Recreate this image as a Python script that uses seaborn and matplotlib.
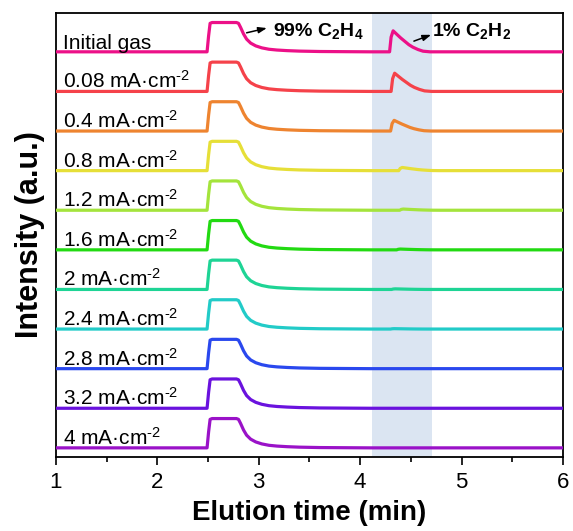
import matplotlib
matplotlib.use("Agg")
import numpy as np
import pandas as pd
import matplotlib.pyplot as plt
import seaborn as sns

# Series, top to bottom
labels = ["Initial gas", "0.08 mA·cm$^{\\text{-2}}$", "0.4 mA·cm$^{\\text{-2}}$",
          "0.8 mA·cm$^{\\text{-2}}$", "1.2 mA·cm$^{\\text{-2}}$", "1.6 mA·cm$^{\\text{-2}}$",
          "2 mA·cm$^{\\text{-2}}$", "2.4 mA·cm$^{\\text{-2}}$", "2.8 mA·cm$^{\\text{-2}}$",
          "3.2 mA·cm$^{\\text{-2}}$", "4 mA·cm$^{\\text{-2}}$"]
colors = ["#ec1088", "#f5424a", "#ee8430", "#e6df38", "#a4e43c", "#22da12",
          "#1ed495", "#22cbc8", "#2a48ee", "#6a12de", "#9a12c8"]

# Ethylene peak profile (retention time in min, intensity in a.u.)
c2h4_time = [1.00, 2.49, 2.505, 2.52, 2.54, 2.78, 2.80, 2.82, 2.85, 2.88, 2.92, 2.97,
             3.03, 3.10, 3.18, 3.28, 3.40, 3.60, 3.90, 4.10]
c2h4_int = [0.00, 0.00, 0.40, 0.72, 0.74, 0.74, 0.72, 0.62, 0.45, 0.32, 0.22, 0.15,
            0.10, 0.065, 0.045, 0.03, 0.018, 0.008, 0.003, 0.0]

# Acetylene peak profile relative to its onset (min) and normalised intensity
c2h2_dt = [0.00, 0.015, 0.035, 0.07, 0.11, 0.15, 0.19, 0.23, 0.28, 0.33, 0.40]
c2h2_shape = [0.00, 0.70, 1.00, 0.84, 0.66, 0.50, 0.34, 0.22, 0.11, 0.03, 0.0]
c2h2_onset = [4.29, 4.305, 4.30, 4.38, 4.39, 4.36, 4.31, 4.30, 4.30, 4.30, 4.30]
c2h2_height = [0.53, 0.46, 0.27, 0.08, 0.03, 0.02, 0.015, 0.01, 0.0, 0.0, 0.0]
tail_time = [4.80, 6.00]

rows = []
n = len(labels)
for i, lab in enumerate(labels):
    offset = n - 1 - i
    t = list(c2h4_time) + [c2h2_onset[i] + d for d in c2h2_dt] + tail_time
    y = list(c2h4_int) + [c2h2_height[i] * s for s in c2h2_shape] + [0.0, 0.0]
    for tt, yy in zip(t, y):
        rows.append({"time": tt, "intensity": yy + offset, "series": lab})
df = pd.DataFrame(rows)

sns.set_style("ticks")
plt.rcParams["font.family"] = ["Liberation Sans", "DejaVu Sans"]
plt.rcParams["mathtext.fontset"] = "custom"
plt.rcParams["mathtext.rm"] = "Liberation Sans"
plt.rcParams["mathtext.bf"] = "Liberation Sans:bold"
plt.rcParams["mathtext.default"] = "regular"
plt.rcParams["text.color"] = "black"
plt.rcParams["axes.labelcolor"] = "black"
plt.rcParams["xtick.color"] = "black"
plt.rcParams["xtick.labelcolor"] = "black"

fig = plt.figure(figsize=(5.73, 5.31), dpi=100)
ax = fig.add_axes([0.0977, 0.1394, 0.8848, 0.8361])

ax.axvspan(4.12, 4.71, color="#dbe5f2", lw=0, zorder=0)

sns.lineplot(data=df, x="time", y="intensity", hue="series", hue_order=labels,
             palette=colors, estimator=None, sort=False, lw=2.3, legend=False,
             ax=ax, zorder=3)
for line in ax.get_lines():
    line.set_solid_joinstyle("round")
    line.set_solid_capstyle("butt")

for i, lab in enumerate(labels):
    offset = n - 1 - i
    ax.text(1.07, offset + 0.08, lab, fontsize=15, ha="left", va="baseline", zorder=4)

ax.annotate("", xy=(3.08, 10.6), xytext=(2.88, 10.48),
            arrowprops=dict(arrowstyle="-|>,head_length=0.5,head_width=0.18",
                            color="black", lw=1.1, shrinkA=0, shrinkB=0))
ax.text(3.14, 10.4, "99% C$_2$H$_4$", fontsize=14, fontweight="bold", va="baseline")
ax.annotate("", xy=(4.70, 10.43), xytext=(4.53, 10.27),
            arrowprops=dict(arrowstyle="-|>,head_length=0.5,head_width=0.18",
                            color="black", lw=1.1, shrinkA=0, shrinkB=0))
ax.text(4.71, 10.4, "1% C$_2$H$_2$", fontsize=14, fontweight="bold", va="baseline")

ax.set_xlim(1, 6)
ax.set_ylim(-0.23, 10.98)
ax.set_xticks([1, 2, 3, 4, 5, 6])
ax.set_xticks(np.arange(1.5, 6, 1.0), minor=True)
ax.set_yticks([])
ax.tick_params(axis="x", which="major", direction="out", length=6, width=1.2,
               labelsize=16, pad=5, color="black")
ax.tick_params(axis="x", which="minor", direction="out", length=3.5, width=1.2,
               color="black")
for sp in ax.spines.values():
    sp.set_visible(True)
    sp.set_linewidth(1.3)
    sp.set_color("black")

ax.set_xlabel("Elution time (min)", fontsize=20, fontweight="bold", labelpad=5)
ax.set_ylabel("Intensity (a.u.)", fontsize=22, fontweight="bold", labelpad=8)

fig.savefig("out.png", dpi=100)
